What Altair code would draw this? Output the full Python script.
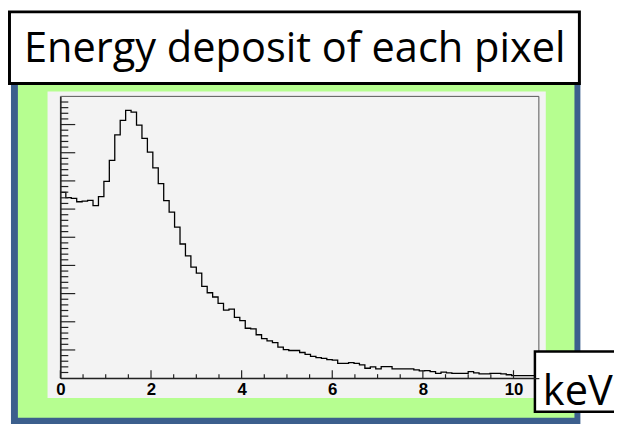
import altair as alt
import pandas as pd

TITLE = "Energy deposit of each pixel"
UNIT = "keV"
BIN_WIDTH = 0.12
COUNTS = [659, 641, 638, 626, 628, 631, 612, 644, 698, 773,
          863, 915, 950, 944, 898, 851, 802, 746, 690, 630,
          589, 536, 476, 434, 394, 373, 326, 303, 288, 265,
          241, 245, 216, 204, 177, 175, 154, 140, 132, 126,
          110, 101, 98, 98, 91, 84, 77, 73, 70, 66,
          64, 52, 52, 55, 52, 47, 35, 40, 33, 41,
          41, 33, 33, 33, 33, 29, 26, 27, 23, 17,
          21, 19, 17, 17, 17, 23, 19, 15, 15, 17,
          17, 15, 12, 9, 9, 9, 9, 9]
X_MAJOR = [0, 2, 4, 6, 8, 10]
X_MINOR = [0.5, 1, 1.5, 2.5, 3, 3.5, 4.5, 5, 5.5, 6.5, 7, 7.5, 8.5, 9, 9.5, 10.5]
Y_MAJOR = [100, 200, 300, 400, 500, 600, 700, 800, 900]
Y_MINOR = [v for v in range(20, 1000, 20) if v % 100 != 0]
X_MAX = 10.56
Y_MAX = 1000

W, H = 484, 285

edges = [i * BIN_WIDTH for i in range(len(COUNTS) + 1)]
hist = pd.DataFrame({"x": edges, "y": COUNTS + [COUNTS[-1]]})

xs = alt.Scale(domain=[0, X_MAX], nice=False, zero=False)
ys = alt.Scale(domain=[0, Y_MAX], nice=False)

one = pd.DataFrame({"k": [0]})


def box(x, x2, y, y2, **kw):
    return alt.Chart(one).mark_rect(**kw).encode(
        x=alt.value(x), x2=alt.value(x2), y=alt.value(y), y2=alt.value(y2)
    )


blue = box(-50, 526, -15, 345, fill="#3C5F8D")
green = box(-43, 520, -15, 325, fill="#B6FE90")
panel = box(-13, 491, -5, 305, fill="#F3F3F3")
frame = box(0, W, 0, H, fill=None, stroke="#555555", strokeWidth=1)

line = alt.Chart(hist).mark_line(
    interpolate="step-after", color="black", strokeWidth=1.3
).encode(
    x=alt.X("x:Q", scale=xs, axis=alt.Axis(
        values=X_MAJOR, ticks=False, grid=False, title=None,
        labelFont="Liberation Sans", labelFontWeight="bold", labelFontSize=17,
        labelColor="black", labelFlush=False, labelPadding=4, format="d",
        domainColor="#222222", domainWidth=1.5, zindex=1)),
    y=alt.Y("y:Q", scale=ys, axis=alt.Axis(
        labels=False, ticks=False, grid=False, title=None,
        domainColor="#222222", domainWidth=1.5, zindex=1)),
)


def xticks(vals, length):
    return alt.Chart(pd.DataFrame({"x": vals})).mark_rule(
        color="#222222", strokeWidth=1.2
    ).encode(x=alt.X("x:Q", scale=xs), y=alt.value(H), y2=alt.value(H - length))


def yticks(vals, length):
    return alt.Chart(pd.DataFrame({"y": vals})).mark_rule(
        color="#222222", strokeWidth=1.2
    ).encode(y=alt.Y("y:Q", scale=ys), x=alt.value(0), x2=alt.value(length))


unit_box = box(480, 566, 258, 319, fill="white", stroke="black", strokeWidth=2.5)
title_box = box(-51.5, 525, -85.5, -13, fill="white", stroke="black", strokeWidth=3)

title_txt = alt.Chart(pd.DataFrame({"t": [TITLE]})).mark_text(
    font="Open Sans", fontSize=42, color="black", align="center", baseline="alphabetic"
).encode(x=alt.value(237), y=alt.value(-35), text="t:N")

unit_txt = alt.Chart(pd.DataFrame({"t": [UNIT]})).mark_text(
    font="Open Sans", fontSize=42, color="black", align="left", baseline="alphabetic"
).encode(x=alt.value(488), y=alt.value(312), text="t:N")

chart = alt.layer(
    blue, green, panel, frame, line,
    xticks(X_MAJOR, 8), xticks(X_MINOR, 4),
    yticks(Y_MAJOR, 15), yticks(Y_MINOR, 8),
    unit_box, title_box, title_txt, unit_txt,
).properties(
    width=W, height=H,
    autosize=alt.AutoSizeParams(type="none"),
    padding={"left": 53, "top": 87, "right": 76, "bottom": 44},
    background="white",
).configure_view(stroke=None)

chart.save("out.html", embed_options={"renderer": "svg", "actions": False})
